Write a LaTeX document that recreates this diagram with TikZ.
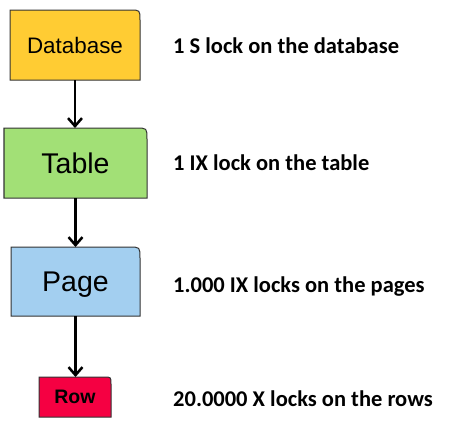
\documentclass[tikz,border=0pt]{standalone}
\usepackage{fontspec}
\usepackage{tikz}
\usetikzlibrary{arrows.meta}
\usetikzlibrary{backgrounds}
\newfontfamily\arialfont{Liberation Sans}
\newfontfamily\calfont{Carlito}
\definecolor{dbcol}{RGB}{255,204,51}
\definecolor{tblcol}{RGB}{162,224,118}
\definecolor{pgcol}{RGB}{163,207,240}
\definecolor{rowcol}{RGB}{245,0,66}
\tikzstyle{box}=[inner sep=0, outer sep=0, text depth=0pt, anchor=center]
\tikzstyle{arr}=[line width=2.5pt, -{Straight Barb[length=8pt,width=14pt]}]
\tikzstyle{lbl}=[inner sep=0, anchor=base west, font=\calfont\bfseries\fontsize{22.5}{27}\selectfont]
\tikzstyle{boxline}=[draw=black!80, line width=1pt]
% box with one rounded corner (top right)
\newcommand{\lockbox}[3]{\draw[boxline,fill=#2] (#1.south west) -- (#1.north west) -- ([xshift=-#3]#1.north east) .. controls (#1.north east) .. ([yshift=-#3]#1.north east) -- (#1.south east) -- cycle;}

\begin{document}
\begin{tikzpicture}[x=1pt,y=-1pt]
\useasboundingbox (0,0) rectangle (451,431);
\node[box, minimum width=130pt, minimum height=70pt, font=\arialfont\fontsize{22.4}{26}\selectfont] (db) at (75,45) {Database};
\node[box, minimum width=143pt, minimum height=70pt, font=\arialfont\fontsize{28.5}{33}\selectfont] (tbl) at (75.5,163) {Table};
\node[box, minimum width=129pt, minimum height=69pt, font=\arialfont\fontsize{28.5}{33}\selectfont] (pg) at (75.5,281.5) {Page};
\node[box, minimum width=72pt, minimum height=40pt, font=\arialfont\bfseries\fontsize{19.5}{23}\selectfont] (row) at (75,397) {Row};
\begin{scope}[on background layer]
\lockbox{db}{dbcol}{10pt}
\lockbox{tbl}{tblcol}{11pt}
\lockbox{pg}{pgcol}{11pt}
\lockbox{row}{rowcol}{7pt}
\end{scope}
\draw[arr] (db.south) -- (db.south |- tbl.north);
\draw[arr] (tbl.south) -- (tbl.south |- pg.north);
\draw[arr] (pg.south) -- (pg.south |- row.north);
% the locks
\node[lbl] (dbtxt) at (173,53) {1 S lock on the database};
\node[lbl] (tbltxt) at (173,170) {1 IX lock on the table};
\node[lbl] (pgtxt) at (173,292) {1.000 IX locks on the pages};
\node[lbl] (rowtxt) at (173,406) {20.0000 X locks on the rows};
\end{tikzpicture}
\end{document}
